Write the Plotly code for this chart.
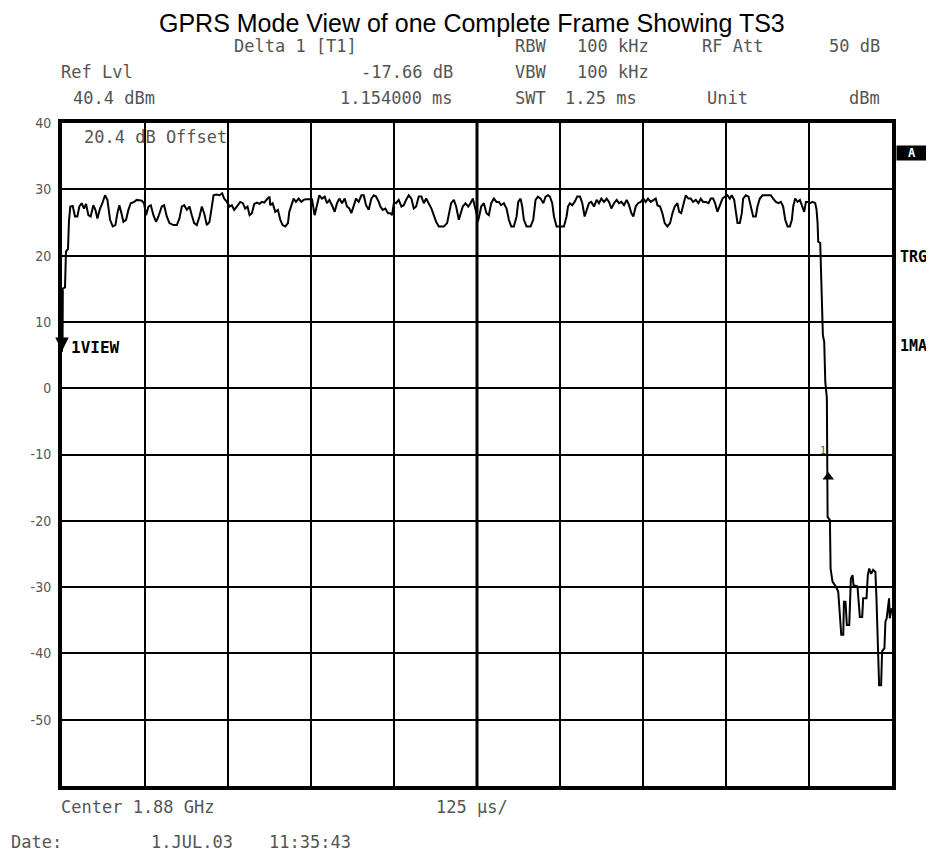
import plotly.graph_objects as go

# ---------------- data ----------------
time_us = [
    0, 1.0, 4.5, 6.0, 9.0, 10.5, 12.5, 16.1, 19.6, 23.1, 26.1, 29.6, 33.2, 36.2, 39.7, 43.2, 47.2, 50.3, 53.3, 57.3,
    60.8, 64.8, 68.4, 72.4, 76.4, 80.4, 83.4, 86.4, 89.5, 92.5, 96.5, 100.0, 103.5, 108.6, 112.6, 120.1, 123.6,
    126.6, 130.2, 133.7, 137.7, 141.7, 145.2, 150.3, 153.8, 157.8, 161.8, 167.9, 172.9, 176.9, 180.4, 184.0,
    188.0, 192.0, 195.5, 199.0, 203.0, 207.1, 210.6, 214.1, 218.1, 222.1, 225.7, 228.2, 232.2, 237.2, 241.2,
    244.2, 248.3, 252.3, 255.8, 259.3, 263.3, 268.4, 272.4, 275.9, 279.4, 282.5, 286.0, 289.5, 293.5, 297.5,
    301.1, 304.6, 308.6, 312.6,
    313.6, 317.2, 321.2, 325.2, 328.7, 332.2, 336.3, 340.3, 342.3, 345.3, 348.8, 352.3, 356.4, 360.4, 363.9,
    367.4, 372.4, 376.5, 380.5, 384.0, 387.5, 391.5, 395.6, 399.1, 402.6, 406.6, 410.6, 414.2, 417.7, 421.7,
    425.7, 429.2, 432.8, 435.8, 439.3, 442.8, 446.8, 450.9, 454.4, 457.9, 461.9, 465.9, 469.5, 473.0, 477.0,
    479.5, 483.0, 487.0, 491.0, 494.6, 497.1, 500.0, 503.1, 507.1, 511.2, 514.7, 518.2, 522.2, 526.2, 529.8,
    533.3, 537.3, 541.3, 544.8, 548.4, 552.4, 556.4, 559.9, 563.4, 567.5, 575.0, 580.0, 582.5, 586.0, 590.1,
    593.6, 597.6, 600.1, 603.6, 607.7, 611.7, 615.2, 618.7,
    624.2, 626.3, 629.3, 631.3, 635.3, 639.3, 642.8, 646.4, 650.4, 654.4, 657.9, 661.4, 665.5, 669.5, 673.0,
    676.5, 680.5, 684.6, 687.1, 690.6, 693.1, 695.6, 699.6, 705.7, 709.7, 713.2, 716.7, 720.8, 724.8, 728.3,
    731.8, 734.8, 738.3, 740.9, 744.9, 750.9, 755.9, 759.9, 762.0, 765.0, 768.5, 772.0, 776.0, 780.1, 783.6,
    787.1, 790.1, 793.6, 797.1, 801.2, 805.2, 808.7, 812.2, 816.3, 820.3, 823.8, 827.3, 831.4, 835.4, 838.9,
    842.4, 846.4, 850.4, 854.0, 857.5, 860.5, 864.0, 867.5, 871.5, 875.6, 879.1, 882.6, 886.6, 890.7, 894.2,
    896.7, 900.7, 904.2, 907.7, 911.7, 915.8, 919.3, 922.8,
    926.8, 929.5, 932.5, 935.4, 939.4, 943.4, 946.9, 950.4, 954.5, 958.5, 962.0, 965.5, 969.5, 973.6, 977.1,
    980.6, 983.6, 987.1, 990.6, 994.7, 998.5, 1002.2, 1005.7, 1008.7, 1012.3, 1014.8, 1017.3, 1020.8, 1023.8,
    1025.8, 1029.9, 1033.9, 1037.4, 1040.9, 1044.9, 1047.4, 1051.0, 1055.0, 1062.5, 1067.5, 1071.0, 1075.1,
    1079.1, 1082.6, 1086.1, 1089.2, 1092.7, 1096.2, 1099.2, 1101.2, 1104.2, 1107.8, 1111.3, 1114.3, 1117.8,
    1120.3, 1123.3, 1126.4, 1130.4, 1134.4, 1136.4, 1137.9,
    1138.9, 1141.9, 1142.9, 1144.9, 1145.9, 1147.9, 1149.5, 1151.9, 1153.0, 1156.5, 1157.5, 1160.5, 1165.5,
    1169.0, 1171.0, 1173.6, 1176.6, 1177.6, 1180.0, 1182.0, 1185.6, 1188.1, 1190.6, 1192.0, 1198.0, 1200.6,
    1201.6, 1205.1, 1206.6, 1211.6, 1213.6, 1215.6, 1218.6, 1221.6, 1225.0, 1226.6, 1228.6, 1230.6, 1233.6,
    1235.1, 1238.6, 1240.1, 1242.0, 1245.6, 1246.6, 1249.6,
]

level_dbm = [
    5.5, 15.0, 15.2, 20.6, 21.0, 25.2, 27.4, 27.5, 25.9, 25.9, 27.4, 27.9, 27.1, 27.8, 26.1, 25.9, 27.6, 26.9, 25.6, 27.1,
    27.9, 29.1, 28.4, 25.4, 24.4, 24.6, 26.4, 27.6, 26.4, 25.1, 25.4, 26.9, 27.9, 28.1, 28.4, 28.3, 27.9,
    26.1, 27.4, 27.6, 26.1, 25.1, 25.9, 27.4, 27.6, 25.9, 24.9, 24.6, 24.6, 25.6, 27.4, 27.6,
    26.9, 27.4, 26.1, 24.9, 24.6, 25.9, 27.4, 26.4, 24.6, 25.1, 27.4, 29.1, 29.2, 29.1, 29.4,
    28.6, 28.1, 27.4, 27.6, 26.9, 27.4, 28.1, 27.9, 27.1, 27.4, 26.1, 26.4, 27.8, 28.0, 27.8,
    28.1, 28.0, 28.5, 28.9,
    27.6, 27.9, 26.6, 26.9, 25.4, 24.6, 24.4, 24.9, 26.6, 27.6, 28.6, 28.1, 28.6, 28.1, 28.4,
    28.5, 28.5, 28.5, 26.1, 27.4, 29.1, 28.6, 28.9, 27.9, 28.4, 27.6, 26.6, 27.9, 28.6, 27.9,
    28.6, 27.4, 27.1, 26.4, 27.4, 28.6, 28.1, 29.1, 29.1, 27.6, 26.9, 28.6, 29.1, 28.9, 28.1,
    27.4, 26.9, 27.1, 26.4, 26.4, 26.1, 28.1, 27.9, 28.4, 27.4, 27.6, 28.4, 29.1, 28.6, 27.1,
    27.4, 28.9, 28.9, 27.9, 28.6, 27.9, 27.1, 26.1, 25.1, 24.4, 24.4, 24.9, 26.4, 27.9, 28.4,
    27.4, 25.4, 26.4, 27.4, 27.9, 27.4, 27.9, 28.6,
    26.4, 25.1, 26.4, 27.4, 27.9, 26.4, 26.1, 27.9, 28.6, 28.1, 28.1, 27.6, 27.9, 27.1, 25.4,
    24.4, 24.4, 25.9, 28.1, 28.6, 27.4, 25.4, 24.4, 24.4, 25.4, 28.4, 28.9, 28.6, 27.9, 28.9,
    29.1, 28.9, 27.9, 25.9, 24.4, 24.4, 24.4, 25.9, 27.4, 27.9, 27.6, 28.1, 28.9, 28.9, 27.9,
    25.9, 26.9, 27.9, 28.1, 27.4, 28.4, 27.9, 28.6, 28.1, 28.6, 28.1, 27.1, 27.9, 28.4, 27.9,
    28.1, 27.6, 28.4, 27.6, 26.4, 25.9, 27.4, 27.9, 28.1, 28.6, 28.1, 28.6, 28.1, 28.4, 28.6,
    27.6, 27.4, 26.4, 24.9, 24.4, 24.9, 26.4, 27.4,
    27.9, 26.6, 26.4, 27.6, 29.1, 28.6, 28.6, 28.1, 28.4, 27.9, 28.6, 28.1, 28.1, 27.9, 28.6,
    28.6, 27.9, 26.6, 27.6, 28.6, 28.9, 29.1, 28.6, 29.1, 28.4, 26.6, 24.9, 24.9, 26.4,
    28.6, 29.1, 28.9, 27.4, 25.9, 25.9, 27.4, 28.6, 29.1, 29.1, 29.1, 28.6, 28.1,
    27.9, 28.1, 27.4, 25.4, 24.4, 24.4, 25.4, 27.4, 28.6, 28.1, 28.4, 27.4, 26.6,
    28.1, 28.1, 27.9, 28.1, 27.9, 26.9, 24.9,
    22.1, 21.9, 18.1, 14.1, 8.0, 7.0, 1.0, -1.5, -19.4, -19.9, -27.2, -29.2, -29.9,
    -30.7, -34.0, -37.2, -37.2, -32.2, -32.2, -35.7, -35.7, -28.7, -28.2, -29.7, -29.9, -33.7,
    -34.5, -34.5, -31.7, -31.7, -28.2, -27.2, -28.0, -27.4, -27.7, -31.7, -37.7, -44.8, -44.8,
    -39.7, -39.2, -35.2, -34.7, -31.7, -34.7, -33.2,
]

y_tick_values = [40, 30, 20, 10, 0, -10, -20, -30, -40, -50]
y_tick_labels = ["40", "30", "20", "10", "0", "-10", "-20", "-30", "-40", "-50"]

marker_time_us = [1154]
marker_level_dbm = [-13.4]

title_text = "GPRS Mode View of one Complete Frame Showing TS3"

# ---------------- layout helpers ----------------
# The page body has an 8 px margin, so the figure is drawn 8 px smaller and
# every screen position below is given in screenshot pixels minus that offset.
OFF = 8
W, H = 934 - OFF, 853 - OFF
L, R, T, B = 62 - OFF, 892 - OFF, 123 - OFF, 786 - OFF


def pxx(x):
    return (x - OFF - L) / (R - L)


def pxy(y):
    return (B - (y - OFF)) / (B - T)


MONO = "DejaVu Sans Mono, monospace"
GREY = "#555555"

fig = go.Figure()

fig.add_trace(go.Scatter(
    x=time_us, y=level_dbm, mode="lines",
    line=dict(color="black", width=2), hoverinfo="skip", showlegend=False,
))
fig.add_trace(go.Scatter(
    x=marker_time_us, y=marker_level_dbm, mode="markers",
    marker=dict(symbol="triangle-up", size=10, color="black"),
    hoverinfo="skip", showlegend=False,
))

annotations = []


def txt(text, x, y, anchor="left", size=17, color=GREY, family=MONO, bold=False):
    annotations.append(dict(
        text=("<b>%s</b>" % text) if bold else text,
        x=pxx(x), y=pxy(y), xref="paper", yref="paper",
        xanchor=anchor, yanchor="middle", showarrow=False, borderpad=0,
        font=dict(family=family, size=size, color=color),
    ))


# title
txt(title_text, 472, 22.5, anchor="center", size=25, color="black",
    family="Liberation Sans, Arial, sans-serif")

# header rows
txt("Delta 1 [T1]", 233, 46.5)
txt("RBW", 514, 46.5)
txt("100 kHz", 576, 46.5)
txt("RF Att", 701, 46.5)
txt("50 dB", 881, 46.5, anchor="right")

txt("Ref Lvl", 60, 72)
txt("-17.66 dB", 454, 72, anchor="right")
txt("VBW", 514, 72)
txt("100 kHz", 576, 72)

txt("40.4 dBm", 72, 98)
txt("1.154000 ms", 454, 98, anchor="right")
txt("SWT", 514, 98)
txt("1.25 ms", 564, 98)
txt("Unit", 706, 98)
txt("dBm", 881, 98, anchor="right")

# inside plot
txt("20.4 dB Offset", 83, 137)
txt("1VIEW", 70, 347, size=16, color="black", bold=True)
txt("1", 823, 450, anchor="center", size=10)

# right side labels
txt("TRG", 913, 257, anchor="center", size=15, color="black", bold=True)
txt("1MA", 913, 346, anchor="center", size=15, color="black", bold=True)
annotations.append(dict(
    text="<b>A</b>", x=pxx(912), y=pxy(153), xref="paper", yref="paper",
    xanchor="center", yanchor="middle", showarrow=False,
    font=dict(family=MONO, size=12, color="white"),
    bgcolor="black", width=28, height=12, borderpad=1,
))

# bottom
txt("Center 1.88 GHz", 60, 807)
txt("125 µs/", 435, 807)
txt("Date:", 10, 842)
txt("1.JUL.03", 150, 842)
txt("11:35:43", 268, 842)

# left reference arrow
annotations.append(dict(
    x=0, y=5.6, xref="x", yref="y", ax=0, ay=-62, axref="pixel", ayref="pixel",
    text="", showarrow=True, arrowhead=2, arrowsize=0.9, arrowwidth=3, arrowcolor="black",
))

fig.update_layout(
    width=W, height=H, autosize=False,
    margin=dict(l=L, r=W - R, t=T, b=H - B),
    paper_bgcolor="white", plot_bgcolor="white",
    annotations=annotations,
    shapes=[dict(type="line", xref="x", yref="y", x0=625, x1=625, y0=-60, y1=40,
                 line=dict(color="black", width=3), layer="below")],
)
fig.update_xaxes(
    range=[0, 1250], tick0=0, dtick=125, showticklabels=False, ticks="",
    showgrid=True, gridcolor="black", gridwidth=2, zeroline=False,
    showline=True, linecolor="black", linewidth=4, mirror=True,
)
fig.update_yaxes(
    range=[-60, 40], tickvals=y_tick_values, ticktext=y_tick_labels, ticks="",
    tickfont=dict(family="DejaVu Sans Condensed, DejaVu Sans, sans-serif", size=14, color=GREY),
    showgrid=True, gridcolor="black", gridwidth=2, zeroline=False,
    showline=True, linecolor="black", linewidth=4, mirror=True,
    ticklabelstandoff=4,
)

fig.write_html("out.html")
